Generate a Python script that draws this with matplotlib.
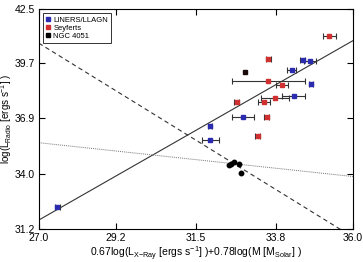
import numpy as np
import matplotlib.pyplot as plt
from matplotlib.lines import Line2D

plt.rcParams['font.family'] = ['Liberation Sans', 'DejaVu Sans']
plt.rcParams['mathtext.fontset'] = 'custom'
plt.rcParams['mathtext.rm'] = 'Liberation Sans'
plt.rcParams['mathtext.it'] = 'Liberation Sans'

# LINERS/LLAGN
liner_x = [27.53, 31.91, 31.91, 32.85, 34.25, 34.56, 34.76, 34.80, 34.31]
liner_y = [32.35, 36.51, 35.77, 36.97, 39.37, 39.88, 39.83, 38.63, 38.05]
liner_xerr = [0.07, 0.05, 0.24, 0.31, 0.13, 0.08, 0.17, 0.05, 0.33]

# Seyferts
sey_x = [35.33, 33.58, 33.58, 33.98, 33.77, 33.46, 32.67, 33.53, 33.28]
sey_y = [41.11, 39.91, 38.82, 38.58, 37.91, 37.74, 37.74, 36.97, 35.99]
sey_xerr = [0.19, 0.07, 1.04, 0.17, 0.39, 0.18, 0.07, 0.08, 0.07]

# NGC 4051
ngc_x = [32.45, 32.52, 32.60, 32.75, 32.80]
ngc_y = [34.48, 34.55, 34.62, 34.52, 34.05]
odd_x = [32.92]
odd_y = [39.25]

# fit lines: (intercept at x=27, slope)
solid_line = (31.66, 1.023)
dashed_line = (40.74, -1.106)
dotted_line = (35.63, -0.193)

xticks = [27.0, 29.2, 31.5, 33.8, 36.0]
yticks = [31.2, 34.0, 36.9, 39.7, 42.5]

blue = '#2b2bb0'
red = '#d03030'

fig = plt.figure(figsize=(3.63, 2.62), dpi=100)
ax = fig.add_axes([0.107, 0.126, 0.865, 0.840])

xx = np.array([27.0, 36.0])
ax.plot(xx, solid_line[0] + solid_line[1] * (xx - 27), color='#333333', lw=0.8, ls='-')
ax.plot(xx, dashed_line[0] + dashed_line[1] * (xx - 27), color='#333333', lw=0.8, ls=(0, (4, 3)))
ax.plot(xx, dotted_line[0] + dotted_line[1] * (xx - 27), color='#777777', lw=0.7, ls=(0, (1, 1)))

ax.errorbar(liner_x, liner_y, xerr=liner_xerr, fmt='s', color=blue, ms=3,
            ecolor='#333333', elinewidth=0.8, capsize=2, capthick=0.8)
ax.errorbar(sey_x, sey_y, xerr=sey_xerr, fmt='s', color=red, ms=3,
            ecolor='#333333', elinewidth=0.8, capsize=2, capthick=0.8)
ax.plot(ngc_x, ngc_y, 'o', color='black', ms=3.2)
ax.plot(odd_x, odd_y, 's', color='#1a0a0a', ms=3)

ax.set_xlim(27.0, 36.0)
ax.set_ylim(31.2, 42.5)
ax.set_xticks(xticks)
ax.set_xticklabels(['%.1f' % v for v in xticks])
ax.set_yticks(yticks)
ax.set_yticklabels(['%.1f' % v for v in yticks])
ax.tick_params(direction='in', top=True, right=True, labelsize=7.5, length=4, width=0.8, pad=3)
for s in ax.spines.values():
    s.set_linewidth(0.8)

ax.set_xlabel('0.67log(L$_{\\mathrm{X{-}Ray}}$ [ergs s$^{-1}$] )+0.78log(M [M$_{\\mathrm{Solar}}$] )',
              fontsize=7.5, labelpad=1)
ax.set_ylabel('log(L$_{\\mathrm{Radio}}$ [ergs s$^{-1}$] )', fontsize=7)
ax.yaxis.set_label_coords(-0.078, 0.5)

handles = [Line2D([], [], marker='s', ls='none', color=blue, ms=2.5),
           Line2D([], [], marker='s', ls='none', color=red, ms=2.5),
           Line2D([], [], marker='s', ls='none', color='black', ms=2.5)]
leg = ax.legend(handles, ['LINERS/LLAGN', 'Seyferts', 'NGC 4051'], loc='upper left',
                fontsize=5.5, handlelength=0.5, handletextpad=0.4, borderpad=0.4,
                labelspacing=0.1, fancybox=False, edgecolor='#333333', framealpha=1,
                borderaxespad=0.6)
leg.get_frame().set_linewidth(0.7)

fig.savefig('out.png', dpi=100)
